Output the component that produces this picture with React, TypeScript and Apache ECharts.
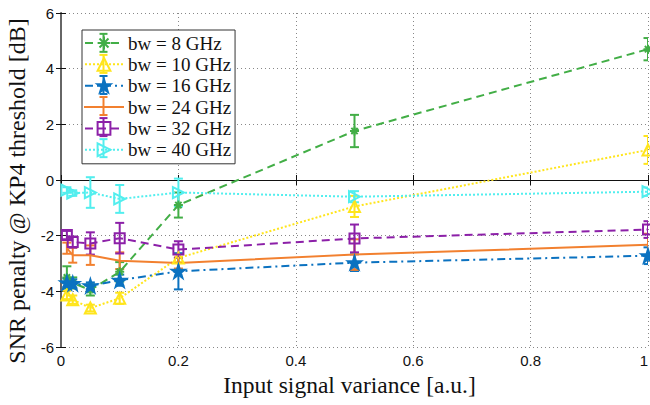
import React, { useEffect, useRef } from "react";
import * as echarts from "echarts";

const xValues = [0.01, 0.02, 0.05, 0.1, 0.2, 0.5, 1];

const bw8 = [-3.5, -3.7, -3.95, -3.3, -0.9, 1.76, 4.7];
const bw8Err = [0.4, 0.2, 0.2, 0.35, 0.45, 0.58, 0.4];
const bw10 = [-4.13, -4.3, -4.6, -4.25, -2.8, -0.95, 1.08];
const bw10Err = [0.15, 0.15, 0.12, 0.2, 0.15, 0.38, 0.5];
const bw16 = [-3.69, -3.72, -3.8, -3.6, -3.28, -2.97, -2.72];
const bw16Err = [0.15, 0.15, 0.12, 0.2, 0.65, 0.3, 0.3];
const bw24 = [-2.45, -2.7, -2.7, -2.9, -2.98, -2.68, -2.33];
const bw24Err = [0.2, 0.27, 0.35, 0.3, 0.2, 0.55, 0.4];
const bw32 = [-1.98, -2.23, -2.28, -2.09, -2.5, -2.1, -1.78];
const bw32Err = [0.15, 0.2, 0.4, 0.55, 0.3, 0.5, 0.3];
const bw40 = [-0.36, -0.47, -0.45, -0.68, -0.45, -0.6, -0.42];
const bw40Err = [0.1, 0.1, 0.55, 0.5, 0.5, 0.2, 0.15];

const seriesNames = [
  "bw = 8 GHz",
  "bw = 10 GHz",
  "bw = 16 GHz",
  "bw = 24 GHz",
  "bw = 32 GHz",
  "bw = 40 GHz",
];

const SERIF = "'Liberation Serif', 'Times New Roman', serif";
const SANS = "'Liberation Sans', Arial, sans-serif";

const ASTERISK = "path://M0,5L10,5M5,0L5,10M1.5,1.5L8.5,8.5M8.5,1.5L1.5,8.5";
const STAR =
  "path://M50,0L61.23,34.55L97.55,34.55L68.17,55.9L79.39,90.45L50,69.1L20.61,90.45L31.83,55.9L2.45,34.55L38.77,34.55Z";
const LINE_ONLY = "path://M0,0L38,0L38,0.05L0,0.05Z";

type Spec = {
  name: string;
  values: number[];
  errs: number[];
  color: string;
  lineType: any;
  symbol: string;
  symbolSize: number;
  symbolRotate?: number;
  fill: string;
};

const specs: Spec[] = [
  { name: seriesNames[0], values: bw8, errs: bw8Err, color: "#42AE46", lineType: [8, 5], symbol: ASTERISK, symbolSize: 9, fill: "rgba(0,0,0,0)" },
  { name: seriesNames[1], values: bw10, errs: bw10Err, color: "#FFE51C", lineType: [2, 2], symbol: "triangle", symbolSize: 11, fill: "rgba(255,255,255,0)" },
  { name: seriesNames[2], values: bw16, errs: bw16Err, color: "#0B72C0", lineType: [8, 4, 2, 4], symbol: STAR, symbolSize: 13, fill: "#0B72C0" },
  { name: seriesNames[3], values: bw24, errs: bw24Err, color: "#F2802F", lineType: "solid", symbol: "none", symbolSize: 0, fill: "#F2802F" },
  { name: seriesNames[4], values: bw32, errs: bw32Err, color: "#8C20A8", lineType: [8, 5], symbol: "rect", symbolSize: 10, fill: "rgba(255,255,255,0)" },
  { name: seriesNames[5], values: bw40, errs: bw40Err, color: "#52EEEE", lineType: [2, 2], symbol: "triangle", symbolSize: 11, symbolRotate: -90, fill: "rgba(255,255,255,0)" },
];

// legend layout
const LEG_LEFT = 82;
const LEG_TOP = 30;
const PAD_T = 3.5;
const PAD_B = 4.5;
const PAD_L = 2;
const ITEM_W = 38;
const ITEM_H = 16;
const ROW_H = 18.7; // measured height of a legend row (text driven)
const ITEM_GAP = 2.36;

function makeErrRender(color: string) {
  return (params: any, api: any) => {
    const x = api.value(0);
    const lo = api.value(1);
    const hi = api.value(2);
    const p1 = api.coord([x, lo]);
    const p2 = api.coord([x, hi]);
    const w = 4.5;
    const st = { stroke: color, lineWidth: 2, fill: "none" };
    return {
      type: "group",
      children: [
        { type: "line", shape: { x1: p1[0], y1: p1[1], x2: p2[0], y2: p2[1] }, style: st },
        { type: "line", shape: { x1: p1[0] - w, y1: p1[1], x2: p1[0] + w, y2: p1[1] }, style: st },
        { type: "line", shape: { x1: p2[0] - w, y1: p2[1], x2: p2[0] + w, y2: p2[1] }, style: st },
      ],
    };
  };
}

export default function App() {
  const ref = useRef<HTMLDivElement>(null);
  useEffect(() => {
    if (!ref.current) return;
    const chart = echarts.init(ref.current, undefined, { renderer: "svg" });
    const series: any[] = [];
    specs.forEach((s) => {
      series.push({
        name: s.name,
        type: "line",
        data: xValues.map((x, i) => [x, s.values[i]]),
        symbol: s.symbol,
        symbolSize: s.symbolSize,
        symbolRotate: s.symbolRotate || 0,
        showAllSymbol: true,
        clip: true,
        lineStyle: { color: s.color, width: 2, type: s.lineType },
        itemStyle: { color: s.fill, borderColor: s.color, borderWidth: 2 },
        emphasis: { disabled: true },
        z: 3,
      });
      series.push({
        name: s.name + " err",
        type: "custom",
        clip: true,
        renderItem: makeErrRender(s.color),
        data: xValues.map((x, i) => [x, s.values[i] - s.errs[i], s.values[i] + s.errs[i]]),
        z: 3,
        silent: true,
      });
    });

    const legendBars: any[] = specs.map((s, i) => {
      const cx = LEG_LEFT + PAD_L + ITEM_W / 2 + 0.5;
      const cy = LEG_TOP + PAD_T + ROW_H / 2 + i * (ROW_H + ITEM_GAP);
      const h = 9;
      const w = 4;
      const st = { stroke: s.color, lineWidth: 2 };
      return {
        type: "group",
        z: 200,
        silent: true,
        children: [
          { type: "line", shape: { x1: cx, y1: cy - h, x2: cx, y2: cy + h }, style: st, z: 200 },
          { type: "line", shape: { x1: cx - w, y1: cy - h, x2: cx + w, y2: cy - h }, style: st, z: 200 },
          { type: "line", shape: { x1: cx - w, y1: cy + h, x2: cx + w, y2: cy + h }, style: st, z: 200 },
        ],
      };
    });

    chart.setOption({
      animation: false,
      backgroundColor: "#ffffff",
      grid: { left: 61, right: 2, top: 13, bottom: 58, containLabel: false, outerBoundsMode: "none" },
      legend: {
        data: seriesNames.map((n, i) => (i === 3 ? { name: n, icon: LINE_ONLY } : { name: n })),
        orient: "vertical",
        left: LEG_LEFT,
        top: LEG_TOP,
        padding: [PAD_T, 4, PAD_B, PAD_L],
        itemGap: ITEM_GAP,
        itemWidth: ITEM_W,
        itemHeight: ITEM_H,
        backgroundColor: "#ffffff",
        borderColor: "#333333",
        borderWidth: 1,
        borderRadius: 0,
        textStyle: { fontFamily: SERIF, fontSize: 19, lineHeight: 16, color: "#111111" },
        selectedMode: false,
        z: 100,
      },
      graphic: legendBars,
      xAxis: [
        {
          type: "value",
          min: 0,
          max: 1,
          interval: 0.2,
          name: "Input signal variance [a.u.]",
          nameLocation: "middle",
          nameGap: 25,
          nameTextStyle: { fontFamily: SERIF, fontSize: 23.5, color: "#111111", padding: [0, 10, 0, 0] },
          axisLine: { lineStyle: { color: "#111111", width: 1 } },
          axisTick: { inside: true, length: 5, lineStyle: { color: "#111111" } },
          axisLabel: { fontFamily: SANS, fontSize: 15, color: "#111111", margin: 6, alignMaxLabel: "right" },
          splitLine: { show: true, lineStyle: { color: "#888888", type: [1, 3], width: 1 } },
        },
        {
          type: "value",
          position: "top",
          min: 0,
          max: 1,
          interval: 0.2,
          axisLine: { show: true, lineStyle: { color: "#111111", width: 1 } },
          axisTick: { show: true, inside: true, length: 5, lineStyle: { color: "#111111" } },
          axisLabel: { show: false },
          splitLine: { show: false },
        },
      ],
      yAxis: [
        {
          type: "value",
          min: -6,
          max: 6,
          interval: 2,
          name: "SNR penalty @ KP4 threshold [dB]",
          nameLocation: "middle",
          nameGap: 32,
          nameTextStyle: { fontFamily: SERIF, fontSize: 24, color: "#111111", padding: [0, 22, 0, 0] },
          axisLine: { show: true, lineStyle: { color: "#111111", width: 1 } },
          axisTick: { show: true, inside: true, length: 5, lineStyle: { color: "#111111" } },
          axisLabel: { fontFamily: SANS, fontSize: 15, color: "#111111", margin: 7 },
          splitLine: { show: true, lineStyle: { color: "#888888", type: [1, 3], width: 1 } },
        },
        {
          type: "value",
          position: "right",
          min: -6,
          max: 6,
          interval: 2,
          axisLine: { show: true, lineStyle: { color: "#666666", width: 2 } },
          axisTick: { show: true, inside: true, length: 5, lineStyle: { color: "#111111" } },
          axisLabel: { show: false },
          splitLine: { show: false },
        },
      ],
      series,
    });
    return () => chart.dispose();
  }, []);
  return (
    <div
      ref={ref}
      style={{ position: "absolute", left: 0, top: 0, width: 650, height: 405 }}
    />
  );
}
